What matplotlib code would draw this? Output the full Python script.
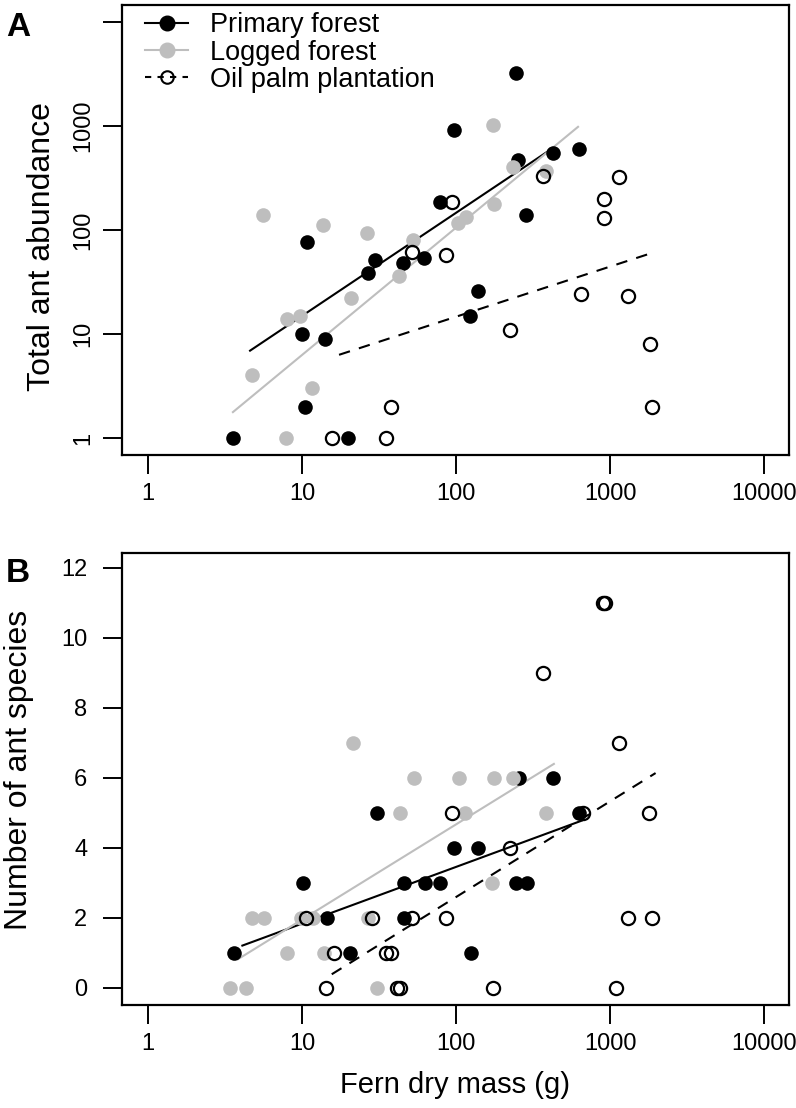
import matplotlib.pyplot as plt
from matplotlib.lines import Line2D
import numpy as np

plt.rcParams['font.family'] = ['Liberation Sans', 'DejaVu Sans']

GREY = '#bebebe'

# panel A: total ant abundance (ferns with no ants cannot go on the log axis)
a_primary_mass = [3.56, 20, 10.5, 10, 14, 10.8, 27, 29.8, 45, 62, 79, 97, 123, 138, 245, 252, 285, 425, 630]
a_primary_abund = [1, 1, 2, 10, 9, 76, 39, 51, 48, 54, 185, 910, 15, 26, 3240, 470, 138, 550, 600]
a_logged_mass = [4.7, 5.6, 7.9, 8, 9.7, 11.6, 13.7, 20.8, 26.5, 42.6, 52.7, 103, 116, 174, 177, 234, 383]
a_logged_abund = [4, 138, 1, 14, 15, 3, 111, 22, 93, 36, 81, 116, 132, 1020, 177, 400, 367]
a_palm_mass = [15.7, 35, 37.8, 52, 86, 94, 224, 367, 650, 915, 915, 1140, 1310, 1820, 1870]
a_palm_abund = [1, 1, 2, 62, 58, 185, 11, 330, 24, 197, 129, 321, 23, 8, 2]

# panel B: number of ant species
b_primary_mass = [3.6, 20.6, 125, 14.6, 46, 10.1, 45.8, 62.5, 79, 245, 290, 97, 139, 30.6, 625, 256, 425]
b_primary_spp = [1, 1, 1, 2, 2, 3, 3, 3, 3, 3, 3, 4, 4, 5, 5, 6, 6]
b_logged_mass = [3.4, 4.3, 30.8, 8.0, 13.8, 4.7, 5.7, 9.8, 11.8, 27, 172, 43, 115, 386, 53, 104, 177, 234, 21.3]
b_logged_spp = [0, 0, 0, 1, 1, 2, 2, 2, 2, 2, 3, 5, 5, 5, 6, 6, 6, 6, 7]
b_palm_mass = [14.4, 41.5, 43.4, 174, 1097, 16.1, 35, 38, 10.6, 28.6, 52, 86, 1310, 1870,
               224, 94, 668, 1800, 1140, 367, 905, 925]
b_palm_spp = [0, 0, 0, 0, 0, 1, 1, 1, 2, 2, 2, 2, 2, 2, 4, 5, 5, 5, 7, 9, 11, 11]

# fitted lines: intercept, slope (per log10 g), x from, x to
a_fits = {'primary': (0.183, 0.991, 4.6, 400),
          'logged': (-0.426, 1.224, 3.56, 620),
          'palm': (0.202, 0.482, 17.4, 1900)}
b_fits = {'primary': (0.219, 1.62, 4.1, 655),
          'logged': (-0.766, 2.72, 3.83, 432),
          'palm': (-2.87, 2.734, 15.6, 1977)}

x_ticks = [1, 10, 100, 1000, 10000]
a_y_ticks = [1, 10, 100, 1000, 10000]
a_y_labels = ['1', '10', '100', '1000', '']
b_y_ticks = [0, 2, 4, 6, 8, 10, 12]

W, H = 796, 1108
fig = plt.figure(figsize=(W / 100, H / 100), dpi=100)
axA = fig.add_axes([122 / W, 1 - 455 / H, 667 / W, 450 / H])
axB = fig.add_axes([122 / W, 1 - 1005 / H, 667 / W, 452 / H])

ms = 10.5
styles = {'primary': dict(color='black', lw=1.5, ls='-'),
          'logged': dict(color=GREY, lw=1.5, ls='-'),
          'palm': dict(color='black', lw=1.5, ls=(0, (5.5, 4.5)))}


def draw_fit(ax, fit, style, logy):
    a, b, x0, x1 = fit
    xs = np.array([x0, x1])
    ys = a + b * np.log10(xs)
    if logy:
        ys = 10 ** ys
    ax.plot(xs, ys, **style, zorder=2)


def points(ax, x, y, kind):
    if kind == 'palm':
        ax.plot(x, y, 'o', ms=ms - 1, mfc='none', mec='black', mew=1.6, zorder=3)
    else:
        c = 'black' if kind == 'primary' else GREY
        ax.plot(x, y, 'o', ms=ms, mfc=c, mec=c, mew=0, zorder=3)


# panel A
points(axA, a_primary_mass, a_primary_abund, 'primary')
points(axA, a_logged_mass, a_logged_abund, 'logged')
points(axA, a_palm_mass, a_palm_abund, 'palm')
for k in ['primary', 'logged', 'palm']:
    draw_fit(axA, a_fits[k], styles[k], True)
axA.set_xscale('log')
axA.set_yscale('log')
axA.set_xlim(10 ** (-26 / 154), 10 ** (641 / 154))
axA.set_ylim(10 ** (-17 / 104), 10 ** (433 / 104))
axA.set_yticks(a_y_ticks)
axA.set_yticklabels(a_y_labels)
axA.tick_params(axis='y', labelrotation=90, pad=6)
for lab in axA.get_yticklabels():
    lab.set_va('center')

# panel B
points(axB, b_primary_mass, b_primary_spp, 'primary')
points(axB, b_logged_mass, b_logged_spp, 'logged')
points(axB, b_palm_mass, b_palm_spp, 'palm')
for k in ['primary', 'logged', 'palm']:
    draw_fit(axB, b_fits[k], styles[k], False)
axB.set_xscale('log')
axB.set_xlim(10 ** (-26 / 154), 10 ** (641 / 154))
axB.set_ylim(-17 / 35, 435 / 35)
axB.set_yticks(b_y_ticks)
axB.tick_params(axis='y', pad=11)

for ax in (axA, axB):
    ax.set_xticks(x_ticks)
    ax.set_xticklabels([str(t) for t in x_ticks])
    ax.minorticks_off()
    ax.tick_params(length=14, width=1.4, labelsize=17, direction='out')
    ax.tick_params(axis='x', pad=6)
    for s in ax.spines.values():
        s.set_linewidth(1.6)

handles = [Line2D([], [], color='black', lw=1.5, marker='o', ms=ms, mec='black'),
           Line2D([], [], color=GREY, lw=1.5, marker='o', ms=ms, mec=GREY),
           Line2D([], [], color='black', lw=1.5, ls=(0, (3, 3)), marker='o', ms=ms - 1.5,
                  mfc='none', mec='black', mew=1.5)]
axA.legend(handles, ['Primary forest', 'Logged forest', 'Oil palm plantation'],
           loc='upper left', bbox_to_anchor=(0.0345, 0.984), frameon=False,
           fontsize=19.5, handlelength=1.6, handletextpad=0.8, labelspacing=0.05,
           borderpad=0, borderaxespad=0)

fig.text(18 / W, 1 - 27 / H, 'A', fontsize=24, fontweight='bold', ha='center', va='center')
fig.text(18 / W, 1 - 573 / H, 'B', fontsize=24, fontweight='bold', ha='center', va='center')
fig.text(42 / W, 1 - 247 / H, 'Total ant abundance', fontsize=23, rotation=90,
         ha='center', va='center')
fig.text(19 / W, 1 - 770 / H, 'Number of ant species', fontsize=23, rotation=90,
         ha='center', va='center')
fig.text(455 / W, 1 - 1085 / H, 'Fern dry mass (g)', fontsize=21, ha='center', va='center')

fig.savefig('out.png', dpi=100)
